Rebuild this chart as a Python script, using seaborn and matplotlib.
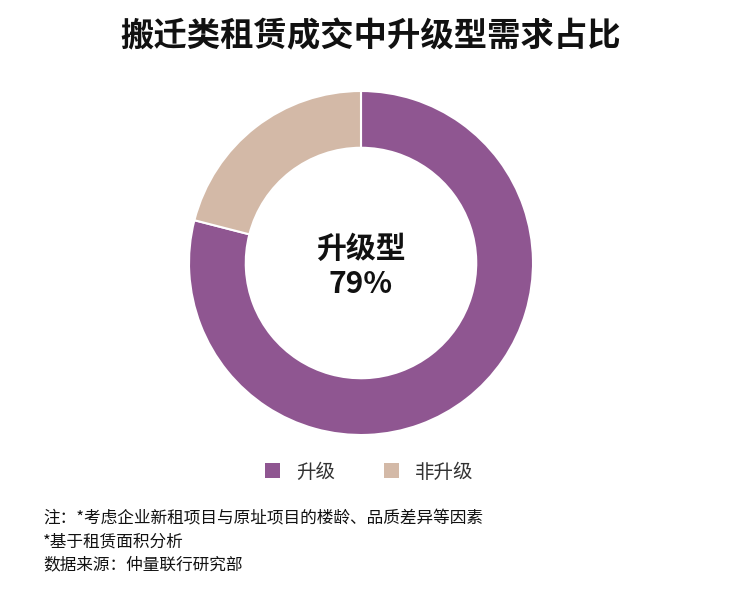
import matplotlib.pyplot as plt
from matplotlib.patches import Patch
import seaborn as sns

# ── 数据 ──────────────────────────────────────────────
labels = ["升级", "非升级"]
shares = [79, 21]
colors = ["#8F5691", "#D3B9A7"]
title = "搬迁类租赁成交中升级型需求占比"
center_label = "升级型"
notes = [
    "注：*考虑企业新租项目与原址项目的楼龄、品质差异等因素",
    "*基于租赁面积分析",
    "数据来源：仲量联行研究部",
]

sns.set_theme(style="white")
plt.rcParams["font.family"] = ["Noto Sans CJK SC", "DejaVu Sans"]

W, H = 744, 589
fig = plt.figure(figsize=(W / 100, H / 100), dpi=100)
fig.patch.set_facecolor("white")

# 圆环位置（像素）
cx, cy, r = 361, 263, 172
ax = fig.add_axes([(cx - r) / W, (H - cy - r) / H, 2 * r / W, 2 * r / H])
wedges, _ = ax.pie(shares, colors=colors, startangle=90, counterclock=False,
                   radius=1.0,
                   wedgeprops=dict(width=0.33, edgecolor="white", linewidth=1.5))
ax.set_aspect("equal")
ax.set_xlim(-1, 1)
ax.set_ylim(-1, 1)
ax.axis("off")

pct = shares[0] / sum(shares) * 100
ax.text(0, 0.08, center_label, ha="center", va="center", fontsize=21.5,
        fontweight="bold", color="#111111")
ax.text(0, -0.12, f"{pct:.0f}%", ha="center", va="center", fontsize=21.5,
        fontweight="bold", color="#111111")

fig.text(371 / W, 1 - 37 / H, title, ha="center", va="center",
         fontsize=24, fontweight="bold", color="#111111")

handles = [Patch(facecolor=c, edgecolor="none") for c in colors]
fig.legend(handles, labels, loc="center", bbox_to_anchor=(369 / W, 1 - 472 / H),
           ncol=2, frameon=False, fontsize=14, handlelength=0.8,
           handleheight=0.8, handletextpad=0.8, columnspacing=2.5,
           labelcolor="#333333")

for i, line in enumerate(notes):
    fig.text(43 / W, 1 - (519 + 23 * i) / H, line, ha="left", va="center",
             fontsize=12, style="italic", color="#111111")

fig.savefig("out.png", dpi=100, facecolor="white")
